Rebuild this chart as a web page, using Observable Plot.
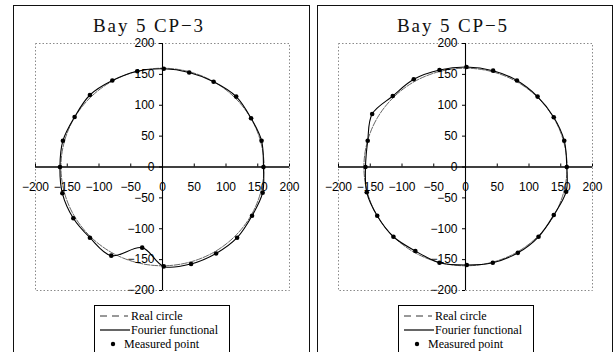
<!DOCTYPE html>
<html><head><meta charset="utf-8">
<script src="https://cdn.jsdelivr.net/npm/d3@7"></script>
<script src="https://cdn.jsdelivr.net/npm/@observablehq/plot@0.6"></script>
<style>
body{margin:0;background:#fff;}
#wrap{position:relative;width:615px;height:352px;overflow:hidden;background:#fff;}
.panel{position:absolute;top:5px;height:400px;border:1.5px solid #111;box-sizing:border-box;}
.layer{position:absolute;left:0;top:0;}
</style></head><body><div id="wrap"></div>
<script>
// ---- data ----
const axisTicks = [-200, -150, -100, -50, 0, 50, 100, 150, 200];
const titles = ["Bay 5 CP\u22123", "Bay 5 CP\u22125"];
const legendLabels = ["Real circle", "Fourier functional", "Measured point"];

// real (reference) circle, read at 15-degree steps
const realCircleX = [160, 154.5, 138.6, 113.1, 80, 41.4, 0, -41.4, -80, -113.1, -138.6, -154.5,
                     -160, -154.5, -138.6, -113.1, -80, -41.4, 0, 41.4, 80, 113.1, 138.6, 154.5];
const realCircleY = [0, 41.4, 80, 113.1, 138.6, 154.5, 160, 154.5, 138.6, 113.1, 80, 41.4,
                     0, -41.4, -80, -113.1, -138.6, -154.5, -160, -154.5, -138.6, -113.1, -80, -41.4];

// CP-3 measured points (Fourier functional passes through them)
const cp3X = [159, 156, 139.5, 116, 80.5, 42, 2, -39.8, -79, -114.3, -138.4, -156.8,
              -161.5, -157.7, -140.4, -114.3, -80.7, -32, 2, 45, 84.4, 117.5, 141, 157.7];
const cp3Y = [0, 42.6, 79, 114, 138, 153, 159, 155, 140, 116.6, 81, 42.6,
              0, -42.6, -83, -114.5, -143.6, -130.6, -161, -157, -140, -114.5, -79, -41.6];

// CP-5 measured points
const cp5X = [159.5, 155.5, 139, 113.5, 81, 43.5, 1.5, -41, -81.5, -114.5, -147, -154,
              -157.5, -155.5, -139, -113.5, -79, -41, 2, 43, 82.5, 115, 139, 158.5];
const cp5Y = [0, 42.6, 80.5, 114, 140, 156, 162, 157, 142, 115, 85.8, 42.6,
              0, -41, -79, -113, -136, -155, -158.7, -155, -139, -113, -77.7, -40];

// ---- layout ----
const layouts = [
  {frameL: 35, frameR: 289, borderL: 13, borderR: 310, titleX: 148, legendL: 94},
  {frameL: 338, frameR: 592, borderL: 317, borderR: 613, titleX: 452, legendL: 398}
];
const W = 615, H = 352;
const fmt = d => d < 0 ? "\u2212" + (-d) : String(d);

const wrap = document.getElementById("wrap");

function drawPanel(xs, ys, L, title) {
  const border = document.createElement("div");
  border.className = "panel";
  border.style.left = L.borderL + "px";
  border.style.width = (L.borderR - L.borderL) + "px";
  wrap.appendChild(border);

  const pts = xs.map((x, i) => ({x, y: ys[i]}));
  const circ = realCircleX.map((x, i) => ({x, y: realCircleY[i]}));

  const chart = Plot.plot({
    width: W, height: H,
    marginLeft: L.frameL, marginRight: W - L.frameR, marginTop: 43, marginBottom: 62,
    x: {domain: [-200, 200], axis: null},
    y: {domain: [-200, 200], axis: null},
    style: {background: "transparent", fontFamily: "'Liberation Sans', Arial, sans-serif", fontSize: "12px", color: "#000"},
    marks: [
      Plot.frame({stroke: "#8a8a8a", strokeDasharray: "1.5,2"}),
      Plot.ruleY([0], {stroke: "#000", strokeWidth: 1.3}),
      Plot.ruleX([0], {stroke: "#000", strokeWidth: 1.1}),
      Plot.ruleX(axisTicks, {x: d => d, y1: 0, y2: 0, insetTop: -3, stroke: "#000"}),
      Plot.ruleY(axisTicks, {y: d => d, x1: 0, x2: 0, insetLeft: -3, stroke: "#000"}),
      Plot.line(circ, {x: "x", y: "y", curve: "catmull-rom-closed", stroke: "#555", strokeWidth: 0.9, strokeDasharray: "6,1.5"}),
      Plot.line(pts, {x: "x", y: "y", curve: "catmull-rom-closed", stroke: "#000", strokeWidth: 1.1}),
      Plot.dot(pts, {x: "x", y: "y", r: 2.3, fill: "#000", stroke: "none"}),
      Plot.text(axisTicks, {x: d => d, y: 0, dy: 20, text: fmt, fill: "#000"}),
      Plot.text(axisTicks, {x: 0, y: d => d, dx: -8, textAnchor: "end", text: fmt, fill: "#000"})
    ]
  });
  chart.classList.add("layer");
  wrap.appendChild(chart);

  // title + legend overlay
  const svg = d3.create("svg").attr("class", "layer").attr("width", W).attr("height", H)
    .style("font-family", "'Liberation Serif', 'Times New Roman', serif");
  svg.append("text").attr("x", L.titleX).attr("y", 32).attr("text-anchor", "middle")
    .attr("font-size", 19).attr("textLength", 110).attr("lengthAdjust", "spacing")
    .attr("fill", "#111").text(title);

  const lx = L.legendL;
  svg.append("rect").attr("x", lx + 0.5).attr("y", 305.5).attr("width", 135).attr("height", 60)
    .attr("fill", "#fff").attr("stroke", "#000").attr("stroke-width", 1);
  const rows = [316, 330, 344];
  svg.append("line").attr("x1", lx + 6).attr("x2", lx + 34).attr("y1", rows[0]).attr("y2", rows[0])
    .attr("stroke", "#333").attr("stroke-width", 1).attr("stroke-dasharray", "7,5");
  svg.append("line").attr("x1", lx + 6).attr("x2", lx + 36).attr("y1", rows[1]).attr("y2", rows[1])
    .attr("stroke", "#000").attr("stroke-width", 1.2);
  svg.append("circle").attr("cx", lx + 19).attr("cy", rows[2]).attr("r", 2.2).attr("fill", "#000");
  const tx = [lx + 37, lx + 37, lx + 30];
  legendLabels.forEach((lab, i) => {
    svg.append("text").attr("x", tx[i]).attr("y", rows[i]).attr("dy", "0.35em")
      .attr("font-size", 12).attr("fill", "#000").text(lab);
  });
  wrap.appendChild(svg.node());
}

drawPanel(cp3X, cp3Y, layouts[0], titles[0]);
drawPanel(cp5X, cp5Y, layouts[1], titles[1]);
</script>
</body></html>
